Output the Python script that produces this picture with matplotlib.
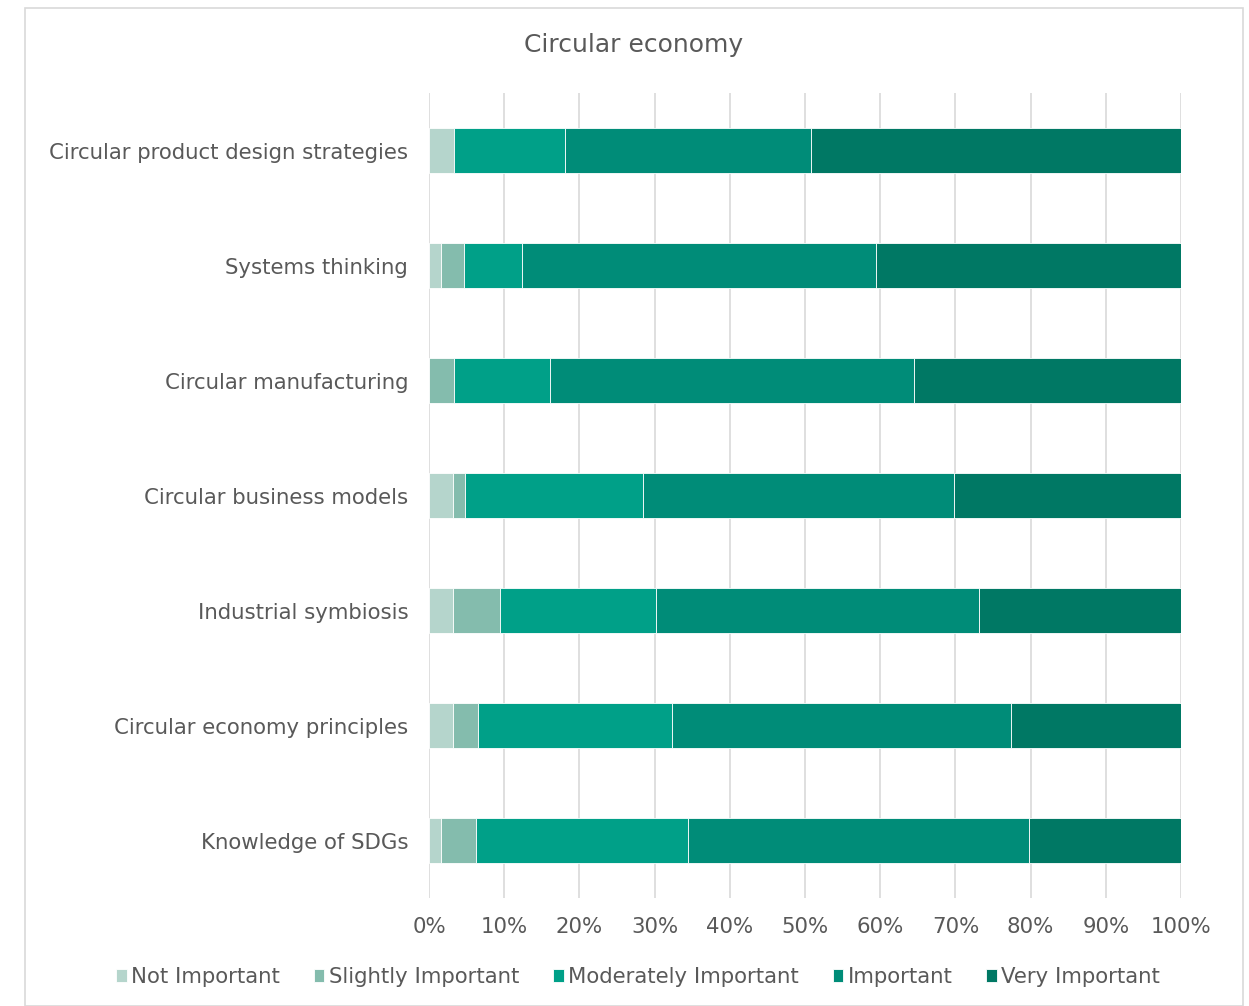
import matplotlib
matplotlib.use("Agg")
import matplotlib.pyplot as plt
from matplotlib.patches import Rectangle
import numpy as np

categories = ["Circular product design strategies", "Systems thinking", "Circular manufacturing",
              "Circular business models", "Industrial symbiosis", "Circular economy principles",
              "Knowledge of SDGs"]
series_names = ["Not Important", "Slightly Important", "Moderately Important", "Important", "Very Important"]
not_important = [3.3, 1.6, 0.0, 3.2, 3.2, 3.2, 1.6]
slightly_important = [0.0, 3.1, 3.3, 1.6, 6.3, 3.3, 4.7]
moderately_important = [14.8, 7.7, 12.8, 23.7, 20.7, 25.8, 28.1]
important = [32.7, 47.0, 48.4, 41.3, 42.9, 45.1, 45.4]
very_important = [49.2, 40.6, 35.5, 30.2, 26.9, 22.6, 20.2]
tick_labels = ["0%", "10%", "20%", "30%", "40%", "50%", "60%", "70%", "80%", "90%", "100%"]

colors = ["#b5d5cc", "#84bcad", "#00a088", "#008c78", "#007864"]
text_color = "#595959"

fig = plt.figure(figsize=(12.49, 10.06), dpi=100)
fig.patches.append(Rectangle((25/1249, 0), (1243-25)/1249, 1-8/1006, transform=fig.transFigure,
                             fill=False, edgecolor="#d9d9d9", linewidth=1.2))
ax = fig.add_axes([429/1249, 1-898/1006, (1181-429)/1249, (898-93)/1006])

data = [not_important, slightly_important, moderately_important, important, very_important]
y = np.arange(len(categories))
left = np.zeros(len(categories))
for vals, name, c in zip(data, series_names, colors):
    vals = np.array(vals)
    ax.barh(y, vals, left=left, height=0.39, color=c, label=name, edgecolor="white", linewidth=0.6, zorder=3)
    left += vals

ax.set_xlim(0, 100)
ax.set_ylim(len(categories) - 0.5, -0.5)
ax.set_yticks(y)
ax.set_yticklabels(categories, fontsize=15.3, color=text_color)
ax.set_xticks(np.arange(0, 101, 10))
ax.set_xticklabels(tick_labels, fontsize=15.3, color=text_color)
ax.tick_params(axis="x", length=0, pad=14)
ax.tick_params(axis="y", length=0, pad=15)
ax.xaxis.grid(True, color="#d9d9d9", linewidth=1.2, zorder=0)
for s in ax.spines.values():
    s.set_visible(False)

fig.text(634/1249, 1-45/1006, "Circular economy", ha="center", va="center", fontsize=18, color=text_color)

handles, labels = ax.get_legend_handles_labels()
leg = fig.legend(handles, labels, loc="center", bbox_to_anchor=(638/1249, 1-977/1006), ncol=5,
                 frameon=False, fontsize=15.3, handlelength=0.5, handleheight=0.5,
                 handletextpad=0.2, columnspacing=1.6, labelcolor=text_color)

fig.savefig("out.png", dpi=100)
